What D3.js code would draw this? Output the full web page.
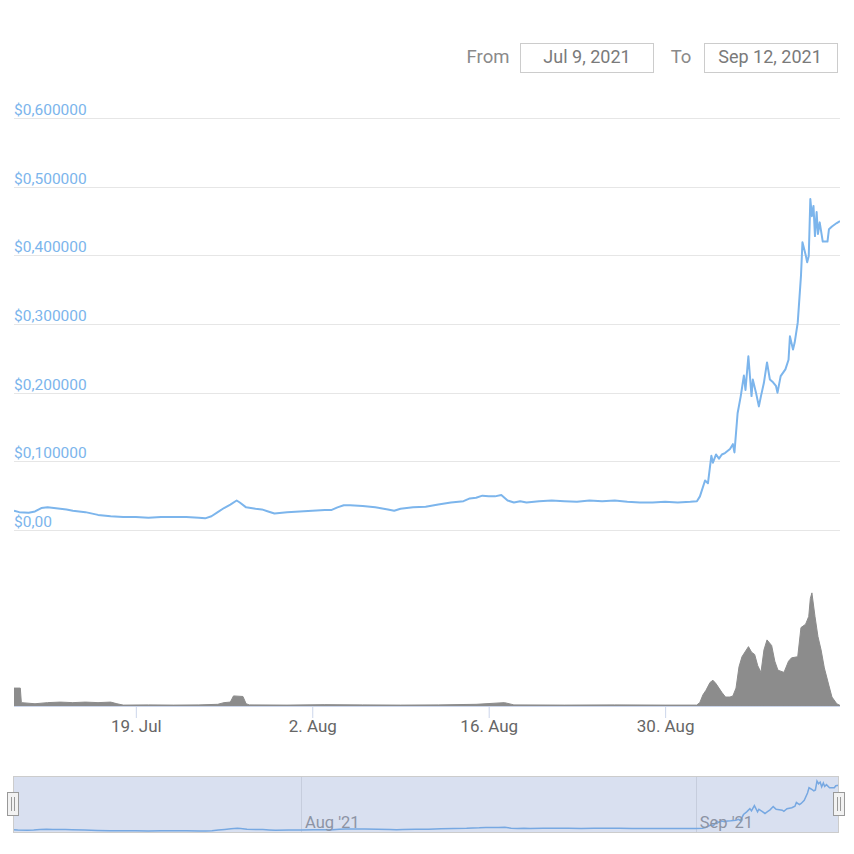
<!DOCTYPE html>
<meta charset="utf-8">
<script src="https://d3js.org/d3.v7.min.js"></script>
<style>
  body { margin: 0; background: #fff; }
  text { font-family: Roboto, "Noto Sans", sans-serif; }
</style>
<div id="chart"></div>
<script>

// price series (USD)
var priceTimes = [
  "2021-07-09 08:00","2021-07-09 18:00","2021-07-10 12:00","2021-07-11 00:00","2021-07-11 12:00",
  "2021-07-12 00:00","2021-07-12 12:00","2021-07-13 00:00","2021-07-13 12:00","2021-07-14 00:00",
  "2021-07-15 00:00","2021-07-16 00:00","2021-07-17 00:00","2021-07-18 00:00","2021-07-19 00:00",
  "2021-07-20 00:00","2021-07-21 00:00","2021-07-22 00:00","2021-07-23 00:00","2021-07-24 00:00",
  "2021-07-24 12:00","2021-07-25 00:00","2021-07-25 12:00","2021-07-26 00:00","2021-07-26 12:00",
  "2021-07-27 00:00","2021-07-27 06:00","2021-07-27 18:00","2021-07-28 12:00","2021-07-29 00:00",
  "2021-07-29 12:00","2021-07-30 00:00","2021-07-31 00:00","2021-08-01 00:00","2021-08-02 00:00",
  "2021-08-03 00:00","2021-08-03 12:00","2021-08-04 00:00","2021-08-04 12:00","2021-08-05 00:00",
  "2021-08-06 00:00","2021-08-07 00:00","2021-08-08 00:00","2021-08-08 12:00","2021-08-09 00:00",
  "2021-08-10 00:00","2021-08-11 00:00","2021-08-12 00:00","2021-08-13 00:00","2021-08-14 00:00",
  "2021-08-14 12:00","2021-08-15 00:00","2021-08-15 12:00","2021-08-16 00:00","2021-08-16 12:00",
  "2021-08-17 00:00","2021-08-17 12:00","2021-08-18 00:00","2021-08-18 12:00","2021-08-19 00:00",
  "2021-08-20 00:00","2021-08-21 00:00","2021-08-22 00:00","2021-08-23 00:00","2021-08-24 00:00",
  "2021-08-25 00:00","2021-08-26 00:00","2021-08-27 00:00","2021-08-28 00:00","2021-08-29 00:00",
  "2021-08-30 00:00","2021-08-31 00:00","2021-09-01 00:00","2021-09-01 12:30","2021-09-01 18:15",
  "2021-09-02 04:00","2021-09-02 09:30","2021-09-02 16:00","2021-09-02 19:00","2021-09-03 01:00",
  "2021-09-03 06:30","2021-09-03 12:00","2021-09-03 18:00","2021-09-04 03:30","2021-09-04 09:00",
  "2021-09-04 12:00","2021-09-04 18:00","2021-09-05 00:00","2021-09-05 06:00","2021-09-05 09:00",
  "2021-09-05 14:30","2021-09-05 20:30","2021-09-05 23:00","2021-09-06 05:00","2021-09-06 10:30",
  "2021-09-06 14:30","2021-09-06 20:00","2021-09-07 02:00","2021-09-07 07:30","2021-09-07 13:30",
  "2021-09-07 19:00","2021-09-07 22:00","2021-09-08 04:00","2021-09-08 13:00","2021-09-08 19:00",
  "2021-09-08 21:40","2021-09-09 03:30","2021-09-09 06:40","2021-09-09 12:30","2021-09-09 18:40",
  "2021-09-09 21:30","2021-09-10 03:30","2021-09-10 06:30","2021-09-10 09:30","2021-09-10 12:30",
  "2021-09-10 15:30","2021-09-10 18:30","2021-09-10 21:20","2021-09-11 00:30","2021-09-11 03:00",
  "2021-09-11 06:20","2021-09-11 12:10","2021-09-11 21:10","2021-09-12 00:00","2021-09-12 05:40",
  "2021-09-12 14:50","2021-09-12 21:00"
];
var priceValues = [
  0.028,0.026,0.025,0.027,0.032,
  0.033,0.032,0.031,0.030,0.028,
  0.026,0.022,0.020,0.019,0.019,
  0.018,0.019,0.019,0.019,0.018,
  0.017,0.020,0.026,0.032,0.037,
  0.043,0.040,0.033,0.031,0.030,
  0.027,0.024,0.026,0.027,0.028,
  0.029,0.029,0.033,0.036,0.036,
  0.035,0.033,0.030,0.028,0.031,
  0.033,0.034,0.037,0.040,0.042,
  0.046,0.047,0.050,0.049,0.049,
  0.051,0.043,0.040,0.042,0.040,
  0.042,0.043,0.042,0.041,0.043,
  0.042,0.043,0.041,0.040,0.040,
  0.041,0.040,0.041,0.042,0.049,
  0.072,0.068,0.108,0.098,0.110,
  0.104,0.110,0.112,0.118,0.125,
  0.113,0.170,0.195,0.225,0.204,
  0.253,0.195,0.219,0.200,0.180,
  0.195,0.214,0.244,0.219,0.215,
  0.210,0.200,0.224,0.234,0.248,
  0.282,0.263,0.273,0.302,0.370,
  0.419,0.401,0.390,0.399,0.482,
  0.457,0.472,0.428,0.463,0.431,
  0.448,0.420,0.420,0.438,0.442,
  0.447,0.450
];

// trading volume (relative units, peak about 100)
var volumeTimes = [
  "2021-07-09 08:00","2021-07-09 20:00","2021-07-09 22:00","2021-07-11 00:00","2021-07-12 00:00",
  "2021-07-13 00:00","2021-07-14 00:00","2021-07-15 00:00","2021-07-16 00:00","2021-07-17 00:00",
  "2021-07-17 12:00","2021-07-18 00:00","2021-07-20 00:00","2021-07-22 00:00","2021-07-24 00:00",
  "2021-07-25 12:00","2021-07-26 00:00","2021-07-26 12:00","2021-07-26 18:00","2021-07-27 12:00",
  "2021-07-27 18:00","2021-07-28 00:00","2021-07-31 00:00","2021-08-03 00:00","2021-08-06 00:00",
  "2021-08-09 00:00","2021-08-12 00:00","2021-08-15 00:00","2021-08-16 12:00","2021-08-17 06:00",
  "2021-08-18 00:00","2021-08-22 00:00","2021-08-26 00:00","2021-08-30 00:00","2021-09-01 12:00",
  "2021-09-01 18:00","2021-09-02 00:00","2021-09-02 05:45","2021-09-02 13:30","2021-09-02 19:00",
  "2021-09-03 00:45","2021-09-03 06:30","2021-09-03 12:15","2021-09-03 19:00","2021-09-04 03:30",
  "2021-09-04 09:00","2021-09-04 15:00","2021-09-04 20:40","2021-09-05 02:20","2021-09-05 14:40",
  "2021-09-05 20:40","2021-09-06 02:30","2021-09-06 08:20","2021-09-06 14:30","2021-09-06 20:10",
  "2021-09-07 02:00","2021-09-07 10:50","2021-09-07 16:50","2021-09-07 22:50","2021-09-08 10:20",
  "2021-09-08 19:00","2021-09-09 00:45","2021-09-09 12:30","2021-09-09 18:40","2021-09-10 03:30",
  "2021-09-10 09:30","2021-09-10 12:30","2021-09-10 15:30","2021-09-10 21:20","2021-09-11 03:00",
  "2021-09-11 09:00","2021-09-11 15:10","2021-09-12 00:00","2021-09-12 05:40","2021-09-12 14:50",
  "2021-09-12 21:00"
];
var volumeValues = [
  16,16,3,2,3,
  3.5,3,3.5,3,3.5,
  2,0.8,1,0.8,1,
  1.5,3,3.5,9,8.5,
  2,1,0.8,1.2,1,
  0.8,1,1.5,2.5,3,
  1,0.8,1,0.8,0.8,
  3,10,14,21,23,
  20,16,12,8,8,
  9,16,35,44,53,
  48,46,36,30,50,
  59,54,40,32,30,
  40,43,44,70,73,
  80,96,101,80,62,
  50,34,18,8,2,
  0.5
];

// axis ticks
var yTicks = [0, 0.1, 0.2, 0.3, 0.4, 0.5, 0.6];
var yTickLabels = ["$0,00", "$0,100000", "$0,200000", "$0,300000", "$0,400000", "$0,500000", "$0,600000"];
var xTickDates = ["2021-07-19 00:00", "2021-08-02 00:00", "2021-08-16 00:00", "2021-08-30 00:00"];
var xTickLabels = ["19. Jul", "2. Aug", "16. Aug", "30. Aug"];
var navTickDates = ["2021-08-01 00:00", "2021-09-01 00:00"];
var navTickLabels = ["Aug '21", "Sep '21"];
var rangeFrom = "Jul 9, 2021";
var rangeTo = "Sep 12, 2021";

var parse = d3.timeParse("%Y-%m-%d %H:%M");
var price = priceTimes.map(function(t, i) { return {date: parse(t), value: priceValues[i]}; });
var volume = volumeTimes.map(function(t, i) { return {date: parse(t), value: volumeValues[i]}; });

var W = 854, H = 854;
var plotLeft = 14, plotRight = 840;
var blue = "#7cb5ec";

var svg = d3.select("#chart").append("svg")
  .attr("width", W).attr("height", H);

// ---- range selector inputs
var rs = svg.append("g");
rs.append("text").attr("x", 488).attr("y", 63).attr("text-anchor", "middle")
  .style("font-size", "18.5px").style("fill", "#8a8a8a").text("From");
rs.append("rect").attr("x", 520.5).attr("y", 43.5).attr("width", 133).attr("height", 29)
  .style("fill", "#fff").style("stroke", "#ccc");
rs.append("text").attr("x", 587).attr("y", 63).attr("text-anchor", "middle")
  .style("font-size", "18px").style("fill", "#7a7a7a").text(rangeFrom);
rs.append("text").attr("x", 681).attr("y", 63).attr("text-anchor", "middle")
  .style("font-size", "18.5px").style("fill", "#8a8a8a").text("To");
rs.append("rect").attr("x", 704.5).attr("y", 43.5).attr("width", 133).attr("height", 29)
  .style("fill", "#fff").style("stroke", "#ccc");
rs.append("text").attr("x", 770).attr("y", 63).attr("text-anchor", "middle")
  .style("font-size", "18px").style("fill", "#7a7a7a").text(rangeTo);

// ---- scales
var x = d3.scaleTime()
  .domain([parse("2021-07-09 08:00"), parse("2021-09-12 21:00")])
  .range([plotLeft, plotRight]);
var y = d3.scaleLinear().domain([0, 0.6]).range([530, 118]);
var yVol = d3.scaleLinear().domain([0, 100]).range([706, 594]);

svg.append("defs").append("clipPath").attr("id", "plotclip")
  .append("rect").attr("x", plotLeft).attr("y", 100).attr("width", plotRight - plotLeft).attr("height", 610);

// ---- price y grid + labels
var yAxis = svg.append("g");
yAxis.selectAll("line").data(yTicks).enter().append("line")
  .attr("x1", plotLeft).attr("x2", plotRight)
  .attr("y1", function(d) { return Math.round(y(d)) + 0.5; })
  .attr("y2", function(d) { return Math.round(y(d)) + 0.5; })
  .style("stroke", "#e6e6e6").style("stroke-width", 1);
yAxis.selectAll("text").data(yTicks).enter().append("text")
  .attr("x", plotLeft).attr("y", function(d) { return y(d) - 3; })
  .style("font-size", "15.5px").style("fill", blue)
  .text(function(d, i) { return yTickLabels[i]; });

// ---- price line
svg.append("path").datum(price)
  .attr("clip-path", "url(#plotclip)")
  .attr("d", d3.line().x(function(d) { return x(d.date); }).y(function(d) { return y(d.value); }))
  .style("fill", "none").style("stroke", blue).style("stroke-width", 2)
  .style("stroke-linejoin", "round");

// ---- volume area
svg.append("path").datum(volume)
  .attr("clip-path", "url(#plotclip)")
  .attr("d", d3.area().x(function(d) { return x(d.date); }).y0(yVol(0)).y1(function(d) { return yVol(d.value); }))
  .style("fill", "#8c8c8c").style("stroke", "#8c8c8c").style("stroke-width", 1);

// ---- x axis
var xAxis = svg.append("g").attr("transform", "translate(0,706)")
  .call(d3.axisBottom(x)
    .tickValues(xTickDates.map(parse))
    .tickFormat(function(d, i) { return xTickLabels[i]; })
    .tickSize(12).tickSizeOuter(0));
xAxis.select(".domain").style("stroke", "#ccd6eb").attr("d", "M" + plotLeft + ",0.5H" + plotRight);
xAxis.selectAll(".tick line").style("stroke", "#ccd6eb");
xAxis.selectAll(".tick text").attr("y", 14).attr("dy", "0.71em")
  .style("font-family", "Roboto, sans-serif").style("font-size", "17px").style("fill", "#666");

// ---- navigator
var navTop = 776, navBottom = 833, navLeft = 13, navRight = 839;
var xNav = d3.scaleTime()
  .domain([parse("2021-07-09 09:00"), parse("2021-09-12 06:00")])
  .range([navLeft, navRight]);
var yNav = d3.scaleLinear().domain([0.017, 0.482]).range([831, 781]);

svg.select("defs").append("clipPath").attr("id", "navclip")
  .append("rect").attr("x", navLeft).attr("y", navTop).attr("width", navRight - navLeft).attr("height", navBottom - navTop);

var nav = svg.append("g");
nav.selectAll(".navgrid").data(navTickDates).enter().append("line")
  .attr("class", "navgrid")
  .attr("x1", function(d) { return Math.round(xNav(parse(d))) + 0.5; })
  .attr("x2", function(d) { return Math.round(xNav(parse(d))) + 0.5; })
  .attr("y1", navTop).attr("y2", navBottom)
  .style("stroke", "#e6e6e6");
nav.append("path").datum(price)
  .attr("clip-path", "url(#navclip)")
  .attr("d", d3.line().x(function(d) { return xNav(d.date); }).y(function(d) { return yNav(d.value); }))
  .style("fill", "none").style("stroke", blue).style("stroke-width", 1.5);
nav.selectAll(".navlabel").data(navTickDates).enter().append("text")
  .attr("class", "navlabel")
  .attr("x", function(d) { return xNav(parse(d)) + 4; })
  .attr("y", 828)
  .style("font-size", "16.5px").style("fill", "#999")
  .text(function(d, i) { return navTickLabels[i]; });
// selected range mask covers everything
nav.append("rect").attr("x", navLeft).attr("y", navTop).attr("width", navRight - navLeft).attr("height", navBottom - navTop)
  .style("fill", "rgba(102,133,194,0.25)");
nav.append("rect").attr("x", navLeft + 0.5).attr("y", navTop + 0.5).attr("width", navRight - navLeft - 1).attr("height", navBottom - navTop - 1)
  .style("fill", "none").style("stroke", "#cccccc");

// handles
[navLeft, navRight].forEach(function(hx) {
  var g = nav.append("g").attr("transform", "translate(" + Math.round(hx) + ",0)");
  g.append("rect").attr("x", -5.5).attr("y", 792.5).attr("width", 11).attr("height", 23)
    .style("fill", "#f2f2f2").style("stroke", "#999");
  g.append("line").attr("x1", -1.5).attr("x2", -1.5).attr("y1", 797).attr("y2", 811).style("stroke", "#999");
  g.append("line").attr("x1", 1.5).attr("x2", 1.5).attr("y1", 797).attr("y2", 811).style("stroke", "#999");
});

</script>
